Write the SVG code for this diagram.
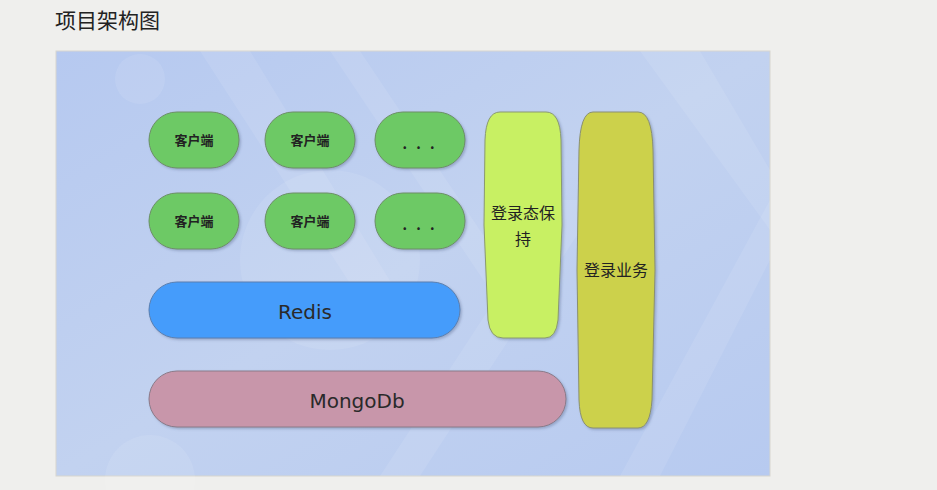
<svg xmlns="http://www.w3.org/2000/svg" width="937" height="490" viewBox="0 0 937 490">
<defs>
<linearGradient id="bg" x1="0" y1="0" x2="1" y2="1">
<stop offset="0" stop-color="#b6c9f0"/>
<stop offset="0.5" stop-color="#c2d2f0"/>
<stop offset="1" stop-color="#b7caf0"/>
</linearGradient>
<filter id="sh" x="-10%" y="-10%" width="130%" height="130%">
<feDropShadow dx="1.5" dy="1.5" stdDeviation="1.2" flood-color="#4a5a80" flood-opacity="0.35"/>
</filter>
<style>
.cjk{font-family:"Noto Sans CJK SC","Noto Sans",sans-serif;fill:#222;text-anchor:middle}
.lat{font-family:"DejaVu Sans","Open Sans",sans-serif;fill:#2a2a2a;text-anchor:middle}
.client{fill:#6dc965;stroke:#6c8f66;stroke-width:1;filter:url(#sh)}
.deco{fill:#ffffff;opacity:0.09}
</style>
</defs>
<rect width="937" height="490" fill="#efefed"/>
<text x="55" y="28" class="cjk" style="text-anchor:start;font-size:21px;font-weight:400">项目架构图</text>
<g id="panel">
<rect x="56" y="51" width="714" height="425" fill="url(#bg)" stroke="#d7d6cf" stroke-width="1"/>
<polygon class="deco" points="200,51 250,51 420,330 380,330"/>
<polygon class="deco" points="330,51 360,51 520,290 490,290"/>
<polygon class="deco" points="620,476 770,200 770,260 660,476"/>
<polygon class="deco" points="380,476 560,200 600,200 420,476"/>
<polygon class="deco" points="640,51 700,51 770,170 770,230"/>
<circle class="deco" cx="140" cy="79" r="25"/>
<circle class="deco" cx="150" cy="480" r="45"/>
<circle class="deco" cx="330" cy="260" r="90"/>
</g>
<g id="connectors"></g>
<g id="client1"><rect class="client" x="149" y="112" width="90" height="56" rx="28"/><text class="cjk" x="194" y="145" font-size="13" font-weight="bold">客户端</text></g>
<g id="client2"><rect class="client" x="265" y="112" width="90" height="56" rx="28"/><text class="cjk" x="310" y="145" font-size="13" font-weight="bold">客户端</text></g>
<g id="more1"><rect class="client" x="375" y="112" width="90" height="56" rx="28"/><text class="cjk" x="420" y="149" font-size="14" font-weight="bold" fill="#444" letter-spacing="3">. . .</text></g>
<g id="client3"><rect class="client" x="149" y="193" width="90" height="56" rx="28"/><text class="cjk" x="194" y="226" font-size="13" font-weight="bold">客户端</text></g>
<g id="client4"><rect class="client" x="265" y="193" width="90" height="56" rx="28"/><text class="cjk" x="310" y="226" font-size="13" font-weight="bold">客户端</text></g>
<g id="more2"><rect class="client" x="375" y="193" width="90" height="56" rx="28"/><text class="cjk" x="420" y="230" font-size="14" font-weight="bold" fill="#444" letter-spacing="3">. . .</text></g>
<g id="login-state">
<path d="M500,112 L546,112 Q560,112 561,140 L562,225 L558,320 Q556,338 545,338 L503,338 Q490,338 488,320 L484,225 L485,140 Q486,112 500,112 Z" fill="#c8f063" stroke="#8a9a70" stroke-width="1" filter="url(#sh)"/>
<text class="cjk" x="523" y="219" font-size="16">登录态保</text>
<text class="cjk" x="523" y="245" font-size="16">持</text>
</g>
<g id="login-biz">
<path d="M593,112 L638,112 Q652,112 653,150 L655,270 L652,400 Q650,428 638,428 L593,428 Q580,428 579,400 L577,270 L579,150 Q580,112 593,112 Z" fill="#ccd14c" stroke="#8a9070" stroke-width="1" filter="url(#sh)"/>
<text class="cjk" x="616" y="276" font-size="16">登录业务</text>
</g>
<g id="redis"><rect x="149" y="282" width="311" height="56" rx="28" fill="#459cfb" stroke="#5a7fb0" stroke-width="1" filter="url(#sh)"/><text class="lat" x="305" y="319" font-size="20">Redis</text></g>
<g id="mongodb"><rect x="149" y="371" width="417" height="56" rx="28" fill="#c896aa" stroke="#8a7a88" stroke-width="1" filter="url(#sh)"/><text class="lat" x="357" y="408" font-size="20">MongoDb</text></g>
</svg>
